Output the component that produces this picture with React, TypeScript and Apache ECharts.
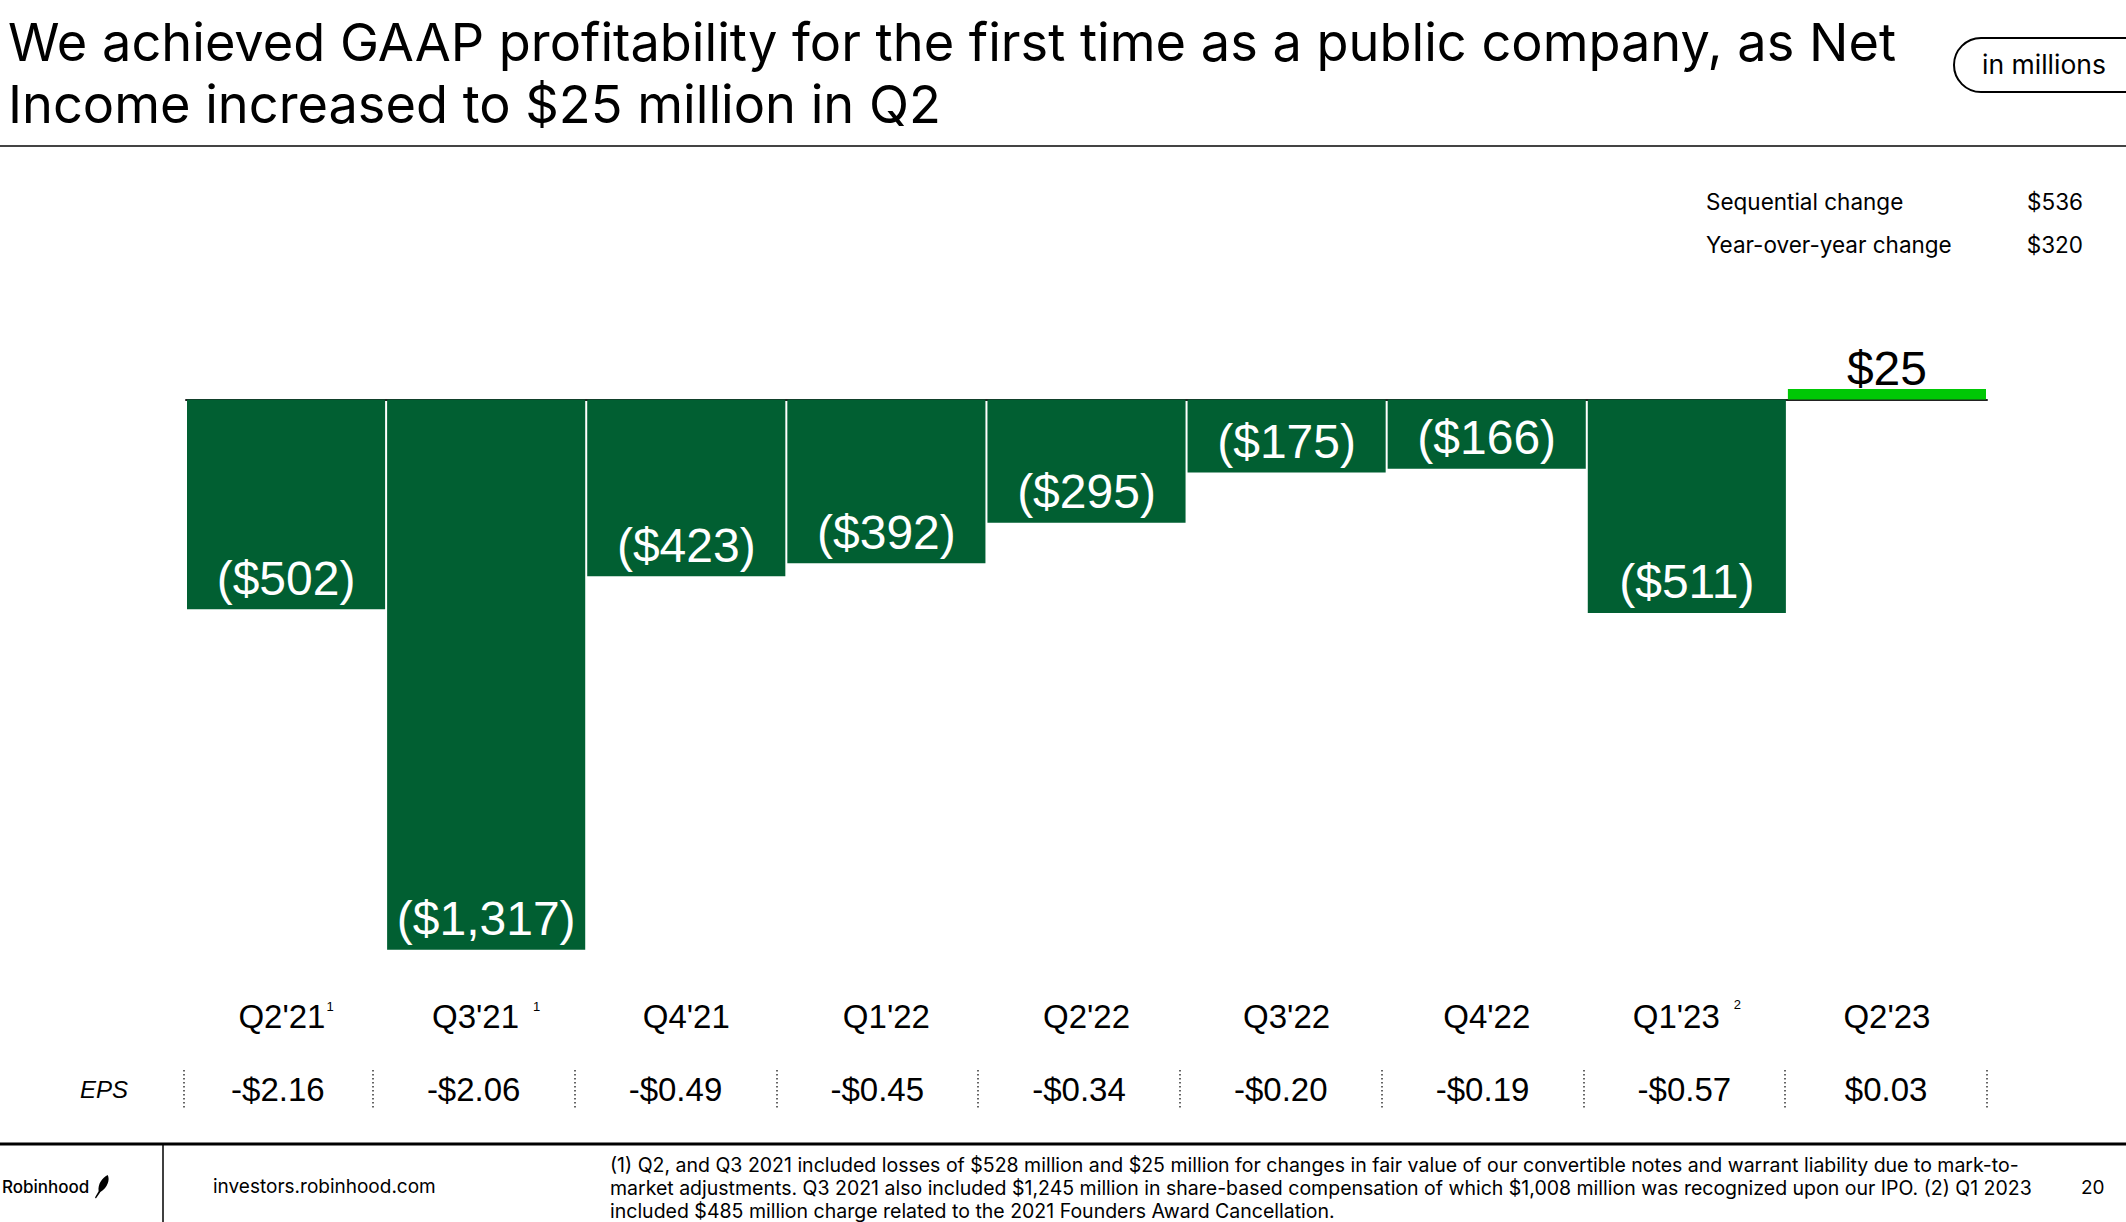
import React, { useEffect, useRef } from "react";
import * as echarts from "echarts";

const categories = ["Q2'21", "Q3'21", "Q4'21", "Q1'22", "Q2'22", "Q3'22", "Q4'22", "Q1'23", "Q2'23"];
const footnoteMarks = ["1", "1", "", "", "", "", "", "2", ""];
const netIncome = [-502, -1317, -423, -392, -295, -175, -166, -511, 25];
const epsLabels = ["-$2.16", "-$2.06", "-$0.49", "-$0.45", "-$0.34", "-$0.20", "-$0.19", "-$0.57", "$0.03"];
const summaryLabels = ["Sequential change", "Year-over-year change"];
const summaryValues = ["$536", "$320"];

const titleText = "We achieved GAAP profitability for the first time as a public company, as Net\nIncome increased to $25 million in Q2";
const footnoteLines = [
  "(1) Q2, and Q3 2021 included losses of $528 million and $25 million for changes in fair value of our convertible notes and warrant liability due to mark-to-",
  "market adjustments. Q3 2021 also included $1,245 million in share-based compensation of which $1,008 million was recognized upon our IPO. (2) Q1 2023",
  "included $485 million charge related to the 2021 Founders Award Cancellation.",
];

const DARK = "#015F32";
const BRIGHT = "#00C805";
const SANS = "Liberation Sans";
const UI = "Inter";

echarts.graphic.registerShape(
  "feather",
  echarts.graphic.extendPath("M14 0 C 17 5, 14 14, 6 19 L 1 26 L 0 25 L 4 18 C 3 10, 8 3, 14 0 Z", {})
);

function fmt(v: number): string {
  if (v < 0) return "($" + Math.abs(v).toLocaleString("en-US") + ")";
  return "$" + v.toLocaleString("en-US");
}

export default function App() {
  const ref = useRef<HTMLDivElement>(null);
  useEffect(() => {
    if (!ref.current) return;
    const chart = echarts.init(ref.current, null, { renderer: "svg" });
    const graphics: any[] = [
      {
        type: "text",
        left: 8,
        top: 11,
        style: { text: titleText, font: `52.3px ${UI}`, fill: "#000", lineHeight: 62 },
      },
      {
        type: "rect",
        shape: { x: 1954, y: 38, width: 220, height: 54, r: 27 },
        style: { fill: "#fff", stroke: "#000", lineWidth: 2 },
      },
      {
        type: "text",
        x: 1982,
        y: 64,
        style: { text: "in millions", font: `26.5px ${UI}`, fill: "#000", verticalAlign: "middle" },
      },
      {
        type: "line",
        shape: { x1: 0, y1: 146, x2: 2126, y2: 146 },
        style: { stroke: "#444", lineWidth: 2 },
      },
      {
        type: "text",
        x: 80,
        y: 1089,
        style: { text: "EPS", font: `italic 24px ${SANS}`, fill: "#000", verticalAlign: "middle" },
      },
      {
        type: "line",
        shape: { x1: 184, y1: 1070, x2: 184, y2: 1109 },
        style: { stroke: "#333", lineWidth: 1.5, lineDash: [1.5, 2.5] },
      },
      {
        type: "line",
        shape: { x1: 0, y1: 1144, x2: 2126, y2: 1144 },
        style: { stroke: "#000", lineWidth: 3 },
      },
      {
        type: "line",
        shape: { x1: 163, y1: 1144, x2: 163, y2: 1222 },
        style: { stroke: "#000", lineWidth: 1.5 },
      },
      {
        type: "text",
        x: 2,
        y: 1187,
        style: { text: "Robinhood", font: `500 17px ${UI}`, fill: "#000", align: "left", verticalAlign: "middle" },
      },
      {
        type: "feather",
        x: 95,
        y: 1175,
        scaleX: 0.9,
        scaleY: 0.9,
        style: { fill: "#000" },
      },
      {
        type: "text",
        x: 213,
        y: 1186,
        style: { text: "investors.robinhood.com", font: `19px ${UI}`, fill: "#000", verticalAlign: "middle" },
      },
      {
        type: "text",
        x: 2081,
        y: 1187,
        style: { text: "20", font: `19px ${UI}`, fill: "#000", verticalAlign: "middle" },
      },
    ];
    footnoteLines.forEach((t, i) => {
      graphics.push({
        type: "text",
        x: 610,
        y: 1165 + i * 23,
        style: { text: t, font: `19.5px ${UI}`, fill: "#000", verticalAlign: "middle" },
      });
    });
    summaryLabels.forEach((t, i) => {
      graphics.push({
        type: "text",
        x: 1706,
        y: 201 + i * 43,
        style: { text: t, font: `22.5px ${UI}`, fill: "#000", verticalAlign: "middle" },
      });
      graphics.push({
        type: "text",
        x: 2083,
        y: 201 + i * 43,
        style: { text: summaryValues[i], font: `22.5px ${UI}`, fill: "#000", align: "right", verticalAlign: "middle" },
      });
    });

    const option: any = {
      animation: false,
      backgroundColor: "#fff",
      grid: [
        { left: 186, width: 1801, top: 357.7, height: 626.6 },
        { left: 171, width: 1816, top: 1070, height: 39 },
      ],
      xAxis: [
        {
          type: "category",
          gridIndex: 0,
          position: "top",
          data: categories,
          axisLine: { show: true, onZero: true, lineStyle: { color: "#222", width: 2 } },
          axisTick: { show: false },
          axisLabel: { show: false },
          splitLine: { show: false },
        },
        {
          type: "category",
          gridIndex: 0,
          position: "bottom",
          data: categories,
          axisLine: { show: false, onZero: false },
          axisTick: { show: false },
          splitLine: { show: false },
          axisLabel: {
            interval: 0,
            margin: 31.7,
            verticalAlign: "middle",
            formatter: (val: string, idx: number) => {
              const m = footnoteMarks[idx];
              if (!m) return `{c|${val}}`;
              if (idx === 0) return `{c|${val}}{s|${m}}`;
              if (idx === 7) return `{c|${val}}{s2|${m}}`;
              return `{c|${val}}{s1|${m}}`;
            },
            rich: {
              c: { fontFamily: SANS, fontSize: 33, color: "#000" },
              s: { fontFamily: SANS, fontSize: 13, color: "#000", verticalAlign: "top", padding: [0, 0, 14, 1] },
              s1: { fontFamily: SANS, fontSize: 13, color: "#000", verticalAlign: "top", padding: [0, 0, 16, 14] },
              s2: { fontFamily: SANS, fontSize: 13, color: "#000", verticalAlign: "top", padding: [0, 0, 24, 14] },
            },
          },
        },
        {
          type: "category",
          gridIndex: 1,
          position: "bottom",
          data: epsLabels,
          axisLine: { show: false },
          axisTick: { show: false },
          axisLabel: {
            interval: 0,
            margin: -19.5,
            verticalAlign: "middle",
            formatter: (val: string, idx: number) => (idx === 0 ? `{first|${val}}` : `{v|${val}}`),
            rich: {
              v: { fontFamily: SANS, fontSize: 33, color: "#000" },
              first: { fontFamily: SANS, fontSize: 33, color: "#000", padding: [0, 0, 0, 12] },
            },
          },
          splitLine: {
            show: true,
            interval: 0,
            showMinLine: false,
            lineStyle: { type: [1.5, 2.5], color: "#333", width: 1.5 },
          },
        },
      ],
      yAxis: [
        { type: "value", gridIndex: 0, min: -1400, max: 100, show: false },
        { type: "value", gridIndex: 1, min: 0, max: 1, show: false },
      ],
      graphic: graphics,
      series: [
        {
          type: "bar",
          xAxisIndex: 0,
          yAxisIndex: 0,
          barCategoryGap: "1%",
          data: netIncome.map((v) => ({
            value: v,
            itemStyle: { color: v >= 0 ? BRIGHT : DARK },
            label:
              v >= 0
                ? { position: "top", color: "#000", distance: -3 }
                : { position: "insideBottom", color: "#fff", distance: 7 },
          })),
          label: {
            show: true,
            fontFamily: SANS,
            fontSize: 48,
            formatter: (p: any) => fmt(p.value),
          },
        },
      ],
    };
    chart.setOption(option);
    return () => chart.dispose();
  }, []);
  return (
    <div
      ref={ref}
      style={{ position: "fixed", left: 0, top: 0, width: 2126, height: 1222, background: "#fff" }}
    />
  );
}
